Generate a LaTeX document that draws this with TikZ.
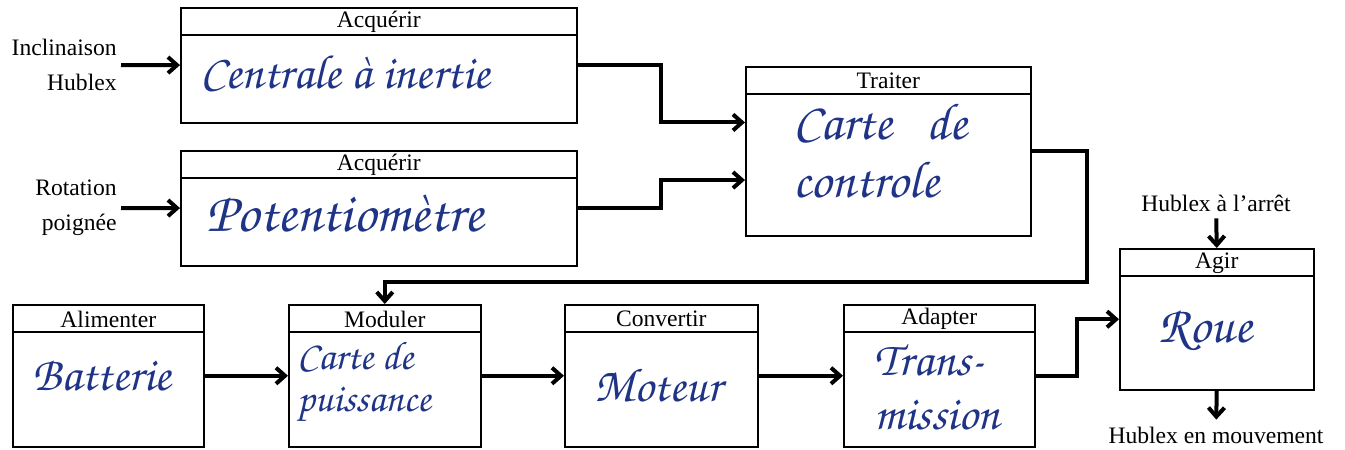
\documentclass[tikz,border=0pt]{standalone}
\usepackage[T1]{fontenc}
\usepackage{fontspec}
\setmainfont{Liberation Serif}
\usepackage{tikz}
\usetikzlibrary{arrows.meta,calc,positioning}

\definecolor{encre}{RGB}{32,52,135}
\newcommand{\manuscrit}{\fontencoding{T1}\fontfamily{pzc}\fontseries{mb}\fontshape{it}\selectfont}
\newcommand{\ecr}[2]{\manuscrit\fontsize{#1}{#2}\selectfont}

\tikzset{
  bloc/.style={draw, line width=0.75pt, inner sep=0pt, anchor=north west},
  filet/.style={line width=0.75pt},
  titre/.style={font=\fontsize{11.8}{14}\selectfont},
  entree/.style={font=\fontsize{11.8}{17.5}\selectfont, align=right, inner sep=2pt, anchor=east},
  ecrit/.style={font=\ecr{24}{26}, text=encre, align=left, inner sep=0pt},
  fleche/.style={line width=2pt, -{Straight Barb[length=4.5pt,width=8pt]}},
}

% bloc fonctionnel : nom, x, y, largeur, hauteur, titre
\newcommand{\bloc}[6]{%
  \node[bloc, minimum width=#4*0.5pt, minimum height=#5*0.5pt] (#1) at (#2,#3) {};
  \draw[filet] ([yshift=-14pt]#1.north west) -- ([yshift=-14pt]#1.north east);
  \node[titre] (#1-titre) at ([yshift=-7.5pt]#1.north) {#6};
}

\begin{document}
\begin{tikzpicture}[x=0.5pt, y=-0.5pt]
  \useasboundingbox (0,0) rectangle (1345,450);

  \bloc{acq1}{180}{7}{396}{115}{Acquérir}
  \bloc{acq2}{180}{150}{396}{115}{Acquérir}
  \bloc{traiter}{745}{66}{285}{169}{Traiter}
  \bloc{alim}{12}{304}{191}{142}{Alimenter}
  \bloc{moduler}{288}{304}{192}{142}{Moduler}
  \bloc{convertir}{564}{304}{193}{142}{Convertir}
  \bloc{adapter}{843}{304}{191}{142}{Adapter}
  \bloc{agir}{1119}{248}{194}{141}{Agir}

  \node[ecrit] (acq1-txt) at (345,72) {Centrale \`a inertie};
  \node[ecrit, font=\ecr{28}{30}] (acq2-txt) at (345,213) {Potentiom\`etre};
  \node[ecrit, font=\ecr{26}{29}] (traiter-txt) at (880,150) {Carte \ \ de\\ controle};
  \node[ecrit] (alim-txt) at (102,375) {Batterie};
  \node[ecrit, font=\ecr{20}{21}] (moduler-txt) at (364,382) {Carte de\\puissance};
  \node[ecrit] (convertir-txt) at (658,385) {Moteur};
  \node[ecrit, font=\ecr{24}{27}] (adapter-txt) at (937,387) {Trans-\\mission};
  \node[ecrit, font=\ecr{26}{28}] (agir-txt) at (1205,330) {Roue};

  \node[entree] (incl) at (121,65) {Inclinaison\\Hublex};
  \node[entree] (rot) at (121,208) {Rotation\\poignée};
  \node[titre] (arret) at (1216,203) {Hublex à l'arrêt};
  \node[titre] (mvt) at (1216,435) {Hublex en mouvement};

  \coordinate (tr-e1) at ($(traiter.north west)!0.331!(traiter.south west)$);
  \coordinate (tr-e2) at ($(traiter.north west)!0.669!(traiter.south west)$);

  \draw[fleche] (incl) -- (acq1);
  \draw[fleche] (rot) -- (acq2);
  \draw[fleche] (acq1.east) -| ($(acq1.east)!0.5!(tr-e1)$) |- (tr-e1);
  \draw[fleche] (acq2.east) -| ($(acq2.east)!0.5!(tr-e2)$) |- (tr-e2);
  \draw[fleche] (traiter.east) -- ++(55,0) |- ($(moduler.north)+(0,-22)$) -- (moduler.north);
  \draw[fleche] (alim) -- (moduler);
  \draw[fleche] (moduler) -- (convertir);
  \draw[fleche] (convertir) -- (adapter);
  \draw[fleche] (adapter.east) -| ($(adapter.east)!0.5!(agir.west)$) |- (agir.west);
  \draw[fleche] (arret) -- (agir.north);
  \draw[fleche] (agir.south) -- (mvt);
\end{tikzpicture}
\end{document}
